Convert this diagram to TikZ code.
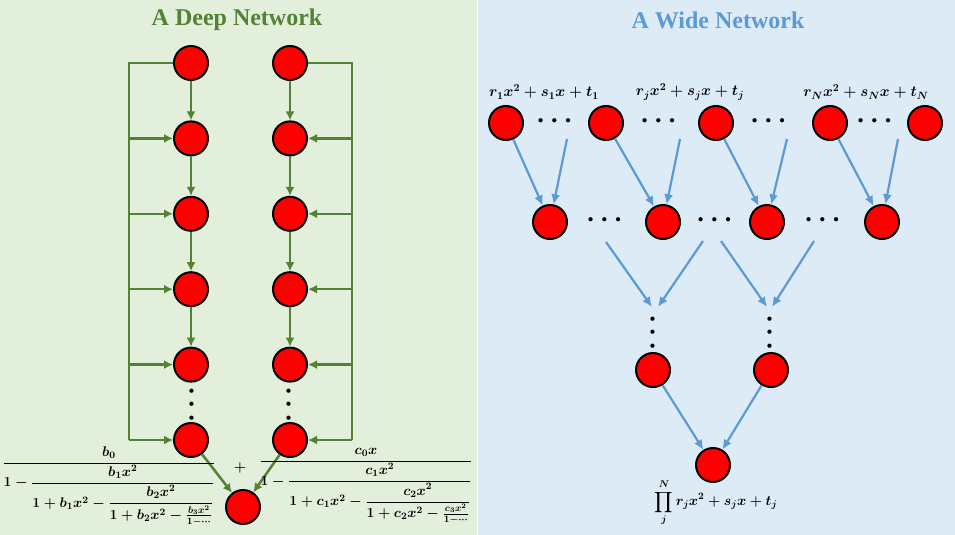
\RequirePackage{fix-cm}
\documentclass[tikz,border=0pt]{standalone}
\usepackage{amsmath}
\usepackage{fontspec}
\setmainfont{Liberation Serif}
\usetikzlibrary{arrows.meta}
\definecolor{deepgreen}{HTML}{548235}
\definecolor{wideblue}{HTML}{5B9BD5}
\definecolor{greenbg}{HTML}{E2EFDA}
\definecolor{bluebg}{HTML}{DDEBF7}

\begin{document}
\begin{tikzpicture}[x=1pt,y=-1pt,
	neuron/.style={circle,draw=black,line width=2pt,fill=red,minimum size=34pt,inner sep=0pt},
	gline/.style={draw=deepgreen,line width=2.5pt},
	garrow/.style={gline,-{Latex[length=9pt,width=9pt]}},
	barrow/.style={draw=wideblue,line width=2.2pt,-{Latex[length=10pt,width=9pt]}},
	dotsnode/.style={font=\boldmath\fontsize{27}{27}\selectfont,inner sep=0pt},
	formula/.style={font=\boldmath\fontsize{14}{16}\selectfont,inner sep=0pt},
	title/.style={font=\bfseries\fontsize{24}{24}\selectfont}]
	\useasboundingbox (0,0) rectangle (955,535);
	
	%backgrounds
	\fill[greenbg] (0,0) rectangle (477,535);
	\fill[bluebg] (478,0) rectangle (955,535);
	
	%titles
	\node[title,text=deepgreen] (deeptitle) at (237,20) {A Deep Network};
	\node[title,text=wideblue] (widetitle) at (718,20) {A Wide Network};
	
	%deep network: two columns
	\foreach \i/\y in {1/63,2/138.4,3/213.8,4/289.2,5/364.6,6/440}{
		\node[neuron] (L\i) at (191,\y) {};
		\node[neuron] (R\i) at (290,\y) {};
	}
	\node[neuron] (out) at (243,507) {};
	\node[dotsnode,rotate=90] (ldots) at (192,402) {$\cdots$};
	\node[dotsnode,rotate=90] (rdots) at (289,402) {$\cdots$};
	
	%buses
	\coordinate (lbus) at (129,63);
	\coordinate (rbus) at (352,63);
	\draw[gline] (L1.west) -- (lbus) -- (lbus |- L6.west);
	\draw[gline] (R1.east) -- (rbus) -- (rbus |- R6.east);
	\foreach \i in {2,...,6}{
		\draw[garrow] (lbus |- L\i.west) -- (L\i.west);
		\draw[garrow] (rbus |- R\i.east) -- (R\i.east);
	}
	\foreach \i/\j in {1/2,2/3,3/4,4/5}{
		\draw[garrow] (L\i) -- (L\j);
		\draw[garrow] (R\i) -- (R\j);
	}
	\draw[garrow] (L6) -- (out);
	\draw[garrow] (R6) -- (out);
	
	%continued fractions
	\node[formula] (bfrac) at (109,486) {$\dfrac{b_0}{1-\dfrac{b_1x^2}{1+b_1x^2-\dfrac{b_2x^2}{1+b_2x^2-\frac{b_3x^2}{1-\cdots}}}}$};
	\node[formula] (plus) at (240,468) {$+$};
	\node[formula] (cfrac) at (366,486) {$\dfrac{c_0x}{1-\dfrac{c_1x^2}{1+c_1x^2-\dfrac{c_2x^2}{1+c_2x^2-\frac{c_3x^2}{1-\cdots}}}}$};
	
	%wide network: top row
	\foreach \i/\x in {1/506,2/606,3/716,4/830,5/925}
		\node[neuron] (a\i) at (\x,123) {};
	\foreach \i/\x in {1/557,2/661,3/771,4/877}
		\node[dotsnode] (ad\i) at (\x,121) {$\cdots$};
	\node[formula,font=\boldmath\fontsize{15}{17}\selectfont] (lab1) at (544,92) {$r_1x^2+s_1x+t_1$};
	\node[formula,font=\boldmath\fontsize{15}{17}\selectfont] (labj) at (690,92) {$r_jx^2+s_jx+t_j$};
	\node[formula,font=\boldmath\fontsize{15}{17}\selectfont] (labN) at (866,92) {$r_Nx^2+s_Nx+t_N$};
	
	%second row
	\foreach \i/\x in {1/550,2/663,3/767,4/882}
		\node[neuron] (b\i) at (\x,222) {};
	\foreach \i/\x in {1/607,2/717,3/825}
		\node[dotsnode] (bd\i) at (\x,220) {$\cdots$};
	\foreach \i/\j/\x in {1/1/567,2/2/680,3/3/787,4/4/898}{
		\coordinate (f\i) at (\x,139);
		\draw[barrow] (a\i) -- (b\j);
		\draw[barrow] (f\i) -- (b\j);
	}
	
	%third row
	\node[neuron] (c1) at (653,370) {};
	\node[neuron] (c2) at (771,370) {};
	\node[dotsnode,rotate=90] (cd1) at (653,330) {$\cdots$};
	\node[dotsnode,rotate=90] (cd2) at (770,330) {$\cdots$};
	\coordinate (g1) at (606,242);
	\coordinate (g2) at (703,241);
	\coordinate (g3) at (721,241);
	\coordinate (g4) at (814,241);
	\coordinate (h1) at (652,307);
	\coordinate (h2) at (658,307);
	\coordinate (h3) at (767,307);
	\coordinate (h4) at (772,307);
	\foreach \i in {1,...,4}
		\draw[barrow] (g\i) -- (h\i);
	
	%output
	\node[neuron] (prod) at (713,465) {};
	\draw[barrow] (c1) -- (prod);
	\draw[barrow] (c2) -- (prod);
	\node[formula] (prodlab) at (716,503) {$\displaystyle\prod_{j}^{N} r_jx^2+s_jx+t_j$};
	
	%\draw[help lines,step=50] (0,0) grid (955,535);
\end{tikzpicture}
\end{document}
